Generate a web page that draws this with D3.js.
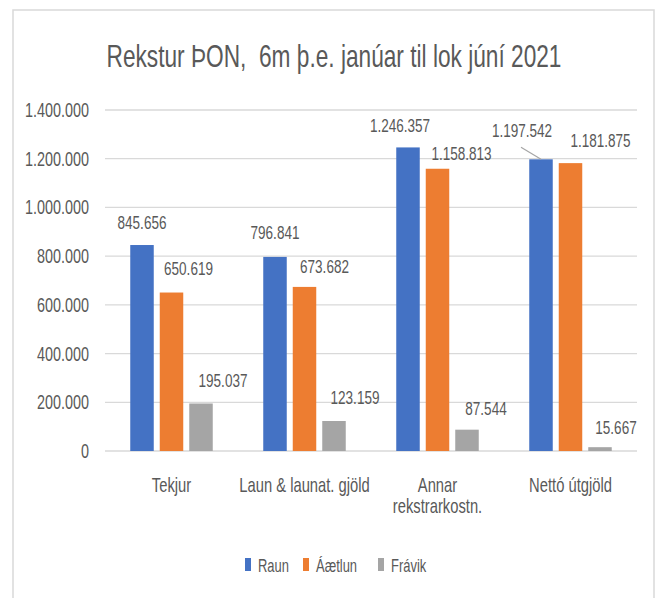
<!DOCTYPE html>
<html>
<head>
<meta charset="utf-8">
<script src="https://cdn.jsdelivr.net/npm/d3@7"></script>
<style>
  body { margin: 0; background: #fff; }
  text { font-family: "Liberation Sans", Arial, sans-serif; fill: #595959; white-space: pre; }
</style>
</head>
<body>
<div id="chart"></div>
<script>
const title = "Rekstur ÞON,  6m þ.e. janúar til lok júní 2021";
const categories = ["Tekjur", "Laun & launat. gjöld", "Annar\nrekstrarkostn.", "Nettó útgjöld"];
const seriesNames = ["Raun", "Áætlun", "Frávik"];
const raun = [845656, 796841, 1246357, 1197542];
const aaetlun = [650619, 673682, 1158813, 1181875];
const fravik = [195037, 123159, 87544, 15667];
const yTicks = [0, 200000, 400000, 600000, 800000, 1000000, 1200000, 1400000];

const colors = ["#4472C4", "#ED7D31", "#A5A5A5"];
// label nudges (dx, dy) read by eye from the reference's dragged labels
const labelNudge = [
    [[0, -1], [17, -2], [22, -1]],
    [[0, -2], [20, 2], [21, -2]],
    [[-8, 0], [24, 7], [19, 1]],
    [[-19, -7], [30, -1], [16, 2]]
];

const width = 659, height = 598;
const margin = {left: 105, right: 22, top: 110, bottom: 147};
const SX = 0.72; // the reference font is tall and narrow

const svg = d3.select("#chart").append("svg")
    .attr("width", width)
    .attr("height", height);

// narrow text helper
const at = (px, py) => `translate(${px},${py}) scale(${SX},1)`;

// frame
svg.append("rect")
    .attr("x", 13).attr("y", 10)
    .attr("width", 641).attr("height", 620)
    .attr("fill", "none")
    .attr("stroke", "#d9d9d9")
    .attr("stroke-width", 1.5);

svg.append("text")
    .attr("transform", at(334, 67))
    .attr("text-anchor", "middle")
    .attr("font-size", "31.5px")
    .text(title);

const x = d3.scaleBand()
    .domain(categories)
    .range([margin.left, width - margin.right]);

const y = d3.scaleLinear()
    .domain([0, 1400000])
    .range([height - margin.bottom, margin.top]);

// gridlines
svg.append("g")
    .selectAll("line")
    .data(yTicks)
    .join("line")
    .attr("x1", margin.left)
    .attr("x2", width - margin.right)
    .attr("y1", d => y(d))
    .attr("y2", d => y(d))
    .attr("stroke", "#d9d9d9")
    .attr("stroke-width", 1.3);

const fmt = d3.formatLocale({decimal: ",", thousands: ".", grouping: [3], currency: ["", ""]}).format(",d");

// y tick labels
svg.append("g")
    .selectAll("text")
    .data(yTicks)
    .join("text")
    .attr("transform", d => at(89, y(d)))
    .attr("dy", "0.35em")
    .attr("text-anchor", "end")
    .attr("font-size", "20px")
    .text(fmt);

const series = [raun, aaetlun, fravik];
const barW = 23.5, barStep = 29.5;

const rows = [];
categories.forEach((c, i) => {
    series.forEach((s, j) => {
        rows.push({cat: c, i: i, j: j, value: s[i]});
    });
});

const bx = d => x(d.cat) + x.bandwidth() / 2 + (d.j - 1) * barStep;

svg.append("g")
    .selectAll("rect")
    .data(rows)
    .join("rect")
    .attr("x", d => bx(d) - barW / 2)
    .attr("y", d => y(d.value))
    .attr("width", barW)
    .attr("height", d => y(0) - y(d.value))
    .attr("fill", d => colors[d.j]);

// leader line for the dragged Nettó Raun label
const lead = rows.find(d => d.i === 3 && d.j === 0);
svg.append("line")
    .attr("x1", bx(lead) + labelNudge[3][0][0] - 1)
    .attr("y1", y(lead.value) - 22 + labelNudge[3][0][1] + 17)
    .attr("x2", bx(lead))
    .attr("y2", y(lead.value))
    .attr("stroke", "#a6a6a6")
    .attr("stroke-width", 1.2);

svg.append("g")
    .selectAll("text")
    .data(rows)
    .join("text")
    .attr("transform", d => at(bx(d) + labelNudge[d.i][d.j][0], y(d.value) - 22 + labelNudge[d.i][d.j][1]))
    .attr("dy", "0.35em")
    .attr("text-anchor", "middle")
    .attr("font-size", "18.8px")
    .text(d => fmt(d.value));

// category labels
const catLabel = svg.append("g")
    .selectAll("text")
    .data(categories)
    .join("text")
    .attr("transform", d => at(x(d) + x.bandwidth() / 2, 492))
    .attr("text-anchor", "middle")
    .attr("font-size", "20.5px");
catLabel.each(function(d) {
    const t = d3.select(this);
    d.split("\n").forEach((line, k) => {
        t.append("tspan")
            .attr("x", 0)
            .attr("dy", k === 0 ? 0 : 21)
            .text(line);
    });
});

// legend
const legendX = [245, 303, 378];
const legend = svg.append("g")
    .selectAll("g")
    .data(seriesNames)
    .join("g")
    .attr("transform", (d, i) => `translate(${legendX[i]},558)`);
legend.append("rect")
    .attr("width", 6).attr("height", 13)
    .attr("fill", (d, i) => colors[i]);
legend.append("text")
    .attr("transform", at(13, 14))
    .attr("font-size", "18px")
    .text(d => d);
</script>
</body>
</html>
